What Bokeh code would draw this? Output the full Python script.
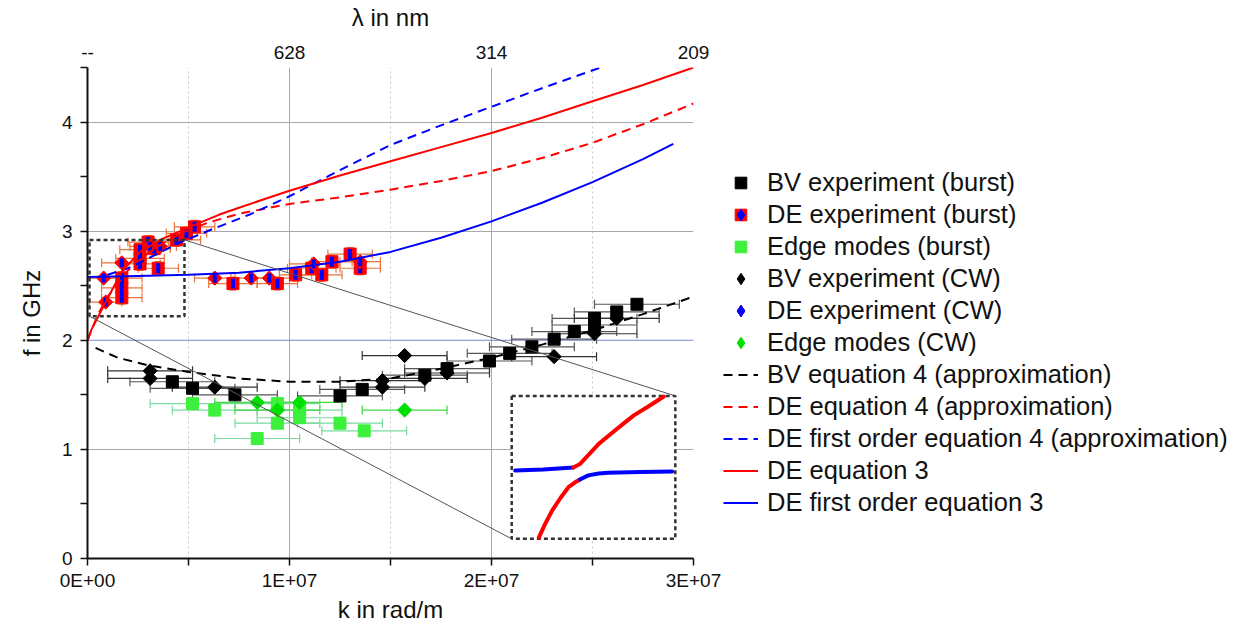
import numpy as np
from bokeh.plotting import figure
from bokeh.models import (ColumnDataSource, Whisker, TeeHead, LinearAxis, FixedTicker,
                          Span, Legend, LegendItem, Range1d)
from bokeh.embed import file_html
from bokeh.resources import INLINE

E7 = 1e7  # k values below are given in units of 1E+07 rad/m

# ---------------- data (k in 1E+07 rad/m, f in GHz) ----------------
bv_burst_k = [0.42, 0.52, 0.73, 1.25, 1.36, 1.67, 1.78, 1.99, 2.09, 2.20, 2.31, 2.41, 2.51, 2.51, 2.62, 2.72]
bv_burst_f = [1.62, 1.56, 1.50, 1.49, 1.55, 1.68, 1.74, 1.81, 1.88, 1.94, 2.01, 2.08, 2.20, 2.14, 2.26, 2.33]
bv_burst_kerr = [0.21] * 16

de_burst_k = [0.17, 0.17, 0.17, 0.26, 0.26, 0.26, 0.30, 0.33, 0.35, 0.44, 0.49, 0.53,
              0.72, 0.94, 1.03, 1.11, 1.16, 1.21, 1.30, 1.35]
de_burst_f = [2.57, 2.48, 2.39, 2.83, 2.75, 2.70, 2.90, 2.84, 2.66, 2.92, 2.98, 3.04,
              2.52, 2.52, 2.60, 2.66, 2.60, 2.72, 2.79, 2.66]
de_burst_kerr = [0.10, 0.10, 0.10, 0.10, 0.12, 0.10, 0.10, 0.08, 0.10, 0.12, 0.10, 0.10,
                 0.12, 0.10, 0.08, 0.12, 0.10, 0.10, 0.11, 0.10]
de_burst_ferr = [0.06] * 20

edge_burst_k = [0.52, 0.63, 0.94, 0.94, 0.84, 1.05, 1.05, 1.25, 1.37]
edge_burst_f = [1.42, 1.36, 1.42, 1.24, 1.10, 1.36, 1.29, 1.24, 1.17]
edge_burst_kerr = [0.21] * 9

bv_cw_k = [0.31, 0.31, 0.63, 1.46, 1.46, 1.57, 1.67, 1.78, 2.31, 2.51, 2.62]
bv_cw_f = [1.72, 1.65, 1.57, 1.57, 1.63, 1.86, 1.65, 1.70, 1.85, 2.06, 2.20]
bv_cw_kerr = [0.21] * 11

de_cw_k = [0.08, 0.09, 0.17, 0.31, 0.36, 0.63, 0.81, 0.90, 1.12, 1.35]
de_cw_f = [2.57, 2.35, 2.71, 2.86, 2.86, 2.57, 2.57, 2.57, 2.70, 2.72]
de_cw_kerr = [0.10, 0.08, 0.10, 0.10, 0.08, 0.10, 0.10, 0.10, 0.12, 0.10]

edge_cw_k = [0.84, 0.94, 1.05, 1.57]
edge_cw_f = [1.43, 1.36, 1.43, 1.36]
edge_cw_kerr = [0.21] * 4

# theory curves
bv_eq4_k = [0.04, 0.15, 0.30, 0.50, 0.75, 1.00, 1.25, 1.50, 1.75, 2.00, 2.25, 2.50, 2.75, 3.00]
bv_eq4_f = [1.93, 1.84, 1.77, 1.71, 1.65, 1.62, 1.62, 1.65, 1.74, 1.84, 1.96, 2.09, 2.24, 2.40]

de_eq4_k = [0.0, 0.05, 0.10, 0.20, 0.30, 0.40, 0.50, 0.60, 0.75, 1.00, 1.25, 1.50, 1.75, 2.00, 2.25, 2.50, 2.75, 3.00]
de_eq4_f = [2.00, 2.23, 2.40, 2.64, 2.80, 2.92, 3.01, 3.08, 3.16, 3.25, 3.31, 3.38, 3.46, 3.55, 3.67, 3.81, 3.98, 4.17]

de1_eq4_k = [0.10, 0.20, 0.30, 0.45, 0.62, 0.80, 1.00, 1.25, 1.50, 1.75, 2.00, 2.25, 2.54]
de1_eq4_f = [2.60, 2.66, 2.75, 2.89, 3.02, 3.15, 3.32, 3.56, 3.79, 3.97, 4.14, 4.31, 4.50]

de_eq3_k = [0.0, 0.02, 0.048, 0.09, 0.17, 0.26, 0.37, 0.47, 0.56, 0.65, 0.75, 0.87, 1.00, 1.25, 1.50,
            1.75, 2.00, 2.25, 2.50, 2.75, 3.00]
de_eq3_f = [2.00, 2.10, 2.20, 2.35, 2.63, 2.81, 2.93, 3.01, 3.08, 3.15, 3.215, 3.29, 3.37, 3.51, 3.64,
            3.77, 3.90, 4.04, 4.19, 4.34, 4.50]

de1_eq3_k = [0.0, 0.25, 0.50, 0.75, 1.00, 1.25, 1.50, 1.75, 2.00, 2.25, 2.50, 2.75, 2.90]
de1_eq3_f = [2.58, 2.59, 2.60, 2.62, 2.66, 2.72, 2.81, 2.94, 3.09, 3.26, 3.45, 3.66, 3.80]

# inset: magnified anticrossing (coordinates inside the zoom window)
ins_up_blue_k = [0.02, 0.10, 0.187]
ins_up_blue_f = [2.555, 2.560, 2.569]
ins_up_red_k = [0.187, 0.205, 0.23, 0.26, 0.296, 0.33, 0.362, 0.40, 0.447]
ins_up_red_f = [2.569, 2.585, 2.63, 2.685, 2.736, 2.783, 2.826, 2.866, 2.917]
ins_lo_red_k = [0.088, 0.105, 0.126, 0.150, 0.173, 0.192, 0.206]
ins_lo_red_f = [2.226, 2.29, 2.358, 2.42, 2.473, 2.497, 2.511]
ins_lo_blue_k = [0.206, 0.23, 0.26, 0.287, 0.38, 0.471]
ins_lo_blue_f = [2.511, 2.531, 2.540, 2.544, 2.548, 2.550]

top_tick_k = [0, 1, 2, 3]
top_tick_labels = ["--", "628", "314", "209"]
bottom_tick_labels = ["0E+00", "1E+07", "2E+07", "3E+07"]

# zoom window and inset placement (k in 1E+07, f in GHz)
ZOOM_K = (0.01, 0.48)
ZOOM_F = (2.22, 2.92)
INSET_K = (2.10, 2.91)
INSET_F = (0.18, 1.49)

FONT = "Liberation Sans"
RED = "#ff0000"
BLUE = "#0000ff"
DE_ERR = "#e8743c"
GREEN_SQ = "#3cf03c"
GREEN_DI = "#00e000"

p = figure(frame_width=606, frame_height=491, x_range=Range1d(0, 3 * E7), y_range=Range1d(0, 4.5),
           output_backend="svg", toolbar_location=None,
           min_border_left=87, min_border_top=10, min_border_bottom=10, min_border_right=10)
p.outline_line_color = None
p.background_fill_color = "white"

# axes
xt = FixedTicker(ticks=[k * E7 for k in top_tick_k], minor_ticks=[0.5 * E7, 1.5 * E7, 2.5 * E7])
p.xaxis.ticker = xt
p.xaxis.major_label_overrides = {int(k * E7): lab for k, lab in zip(top_tick_k, bottom_tick_labels)}
p.yaxis.ticker = FixedTicker(ticks=[0, 1, 2, 3, 4], minor_ticks=[0.5, 1.5, 2.5, 3.5, 4.5])
for ax in (p.xaxis[0], p.yaxis[0]):
    ax.axis_line_width = 2
    ax.axis_line_color = "#111111"
    ax.major_tick_line_color = "#111111"
    ax.minor_tick_line_color = "#111111"
    ax.major_tick_line_width = 1.5
    ax.minor_tick_line_width = 1.5
    ax.major_tick_out = 7
    ax.major_tick_in = 0
    ax.minor_tick_out = 7
    ax.minor_tick_in = 0
    ax.major_label_text_font = FONT
    ax.major_label_text_font_size = "19px"
    ax.major_label_text_color = "#111111"
    ax.axis_label_text_font = FONT
    ax.axis_label_text_font_size = "24px"
    ax.axis_label_text_font_style = "normal"
    ax.axis_label_text_color = "#111111"
p.xaxis.axis_label = "k in rad/m"
p.yaxis.axis_label = "f in GHz"
p.xaxis.major_label_standoff = 4
p.xaxis.axis_label_standoff = 2
p.yaxis.major_label_standoff = 8
p.yaxis.axis_label_standoff = 14

top = LinearAxis(ticker=FixedTicker(ticks=[k * E7 for k in top_tick_k]), axis_label="λ in nm")
top.major_label_overrides = {int(k * E7): lab for k, lab in zip(top_tick_k, top_tick_labels)}
top.axis_line_color = None
top.major_tick_line_color = None
top.minor_tick_line_color = None
top.major_label_text_font = FONT
top.major_label_text_font_size = "19px"
top.major_label_text_color = "#111111"
top.axis_label_text_font = FONT
top.axis_label_text_font_size = "24px"
top.axis_label_text_font_style = "normal"
top.axis_label_text_color = "#111111"
top.major_label_standoff = 3
top.axis_label_standoff = 12
p.add_layout(top, "above")

# grid
p.xgrid.ticker = xt
p.xgrid.grid_line_color = "#a8a8a8"
p.xgrid.minor_grid_line_color = "#c8c8c8"
p.xgrid.minor_grid_line_dash = "2 3"
p.ygrid.ticker = FixedTicker(ticks=[1, 3, 4])
p.ygrid.grid_line_color = "#a8a8a8"
p.add_layout(Span(location=2, dimension="width", line_color="#7c86d0", line_width=1, level="underlay"))


def ksc(vals):
    return np.array(vals) * E7


def xerr_bars(k, f, kerr, color):
    k = np.array(k); kerr = np.array(kerr)
    src = ColumnDataSource(dict(base=f, lower=(k - kerr) * E7, upper=(k + kerr) * E7))
    w = Whisker(source=src, base="base", lower="lower", upper="upper", dimension="width",
                line_color=color, line_width=1.2,
                lower_head=TeeHead(size=9, line_color=color, line_width=1.2),
                upper_head=TeeHead(size=9, line_color=color, line_width=1.2))
    p.add_layout(w)


def ferr_bars(k, f, ferr, color):
    f = np.array(f); ferr = np.array(ferr)
    src = ColumnDataSource(dict(base=ksc(k), lower=f - ferr, upper=f + ferr))
    w = Whisker(source=src, base="base", lower="lower", upper="upper", dimension="height",
                line_color=color, line_width=1.2,
                lower_head=TeeHead(size=7, line_color=color, line_width=1.2),
                upper_head=TeeHead(size=7, line_color=color, line_width=1.2))
    p.add_layout(w)


# error bars
xerr_bars(edge_burst_k, edge_burst_f, edge_burst_kerr, "#78d8a0")
xerr_bars(edge_cw_k, edge_cw_f, edge_cw_kerr, "#40d840")
xerr_bars(bv_burst_k, bv_burst_f, bv_burst_kerr, "#555555")
xerr_bars(bv_cw_k, bv_cw_f, bv_cw_kerr, "#333333")
xerr_bars(de_burst_k, de_burst_f, de_burst_kerr, DE_ERR)
ferr_bars(de_burst_k, de_burst_f, de_burst_ferr, DE_ERR)
xerr_bars(de_cw_k, de_cw_f, de_cw_kerr, DE_ERR)

# markers (legend-shape glyphs are drawn first and hidden below the visible ones)
r_bvb = p.scatter(ksc(bv_burst_k), bv_burst_f, marker="square", size=12, color="black")

r_deb_lg = p.scatter(ksc(de_burst_k), de_burst_f, marker="diamond", size=10, color=BLUE)
r_deb = p.scatter(ksc(de_burst_k), de_burst_f, marker="square", size=12, color=RED)
p.scatter(ksc(de_burst_k), de_burst_f, marker="dash", angle=np.pi / 2, size=10,
          line_color=BLUE, line_width=4)

r_edb = p.scatter(ksc(edge_burst_k), edge_burst_f, marker="square", size=12, color=GREEN_SQ)

r_bvc_lg = p.scatter(ksc(bv_cw_k), bv_cw_f, marker="diamond", size=13, color="black")
p.scatter(ksc(bv_cw_k), bv_cw_f, marker="square", angle=np.pi / 4, size=10, color="black")

r_dec_lg2 = p.scatter(ksc(de_cw_k), de_cw_f, marker="diamond", size=8, color=BLUE)
r_dec_lg = p.scatter(ksc(de_cw_k), de_cw_f, marker="diamond", size=13, color=RED)
p.scatter(ksc(de_cw_k), de_cw_f, marker="square", angle=np.pi / 4, size=10, color=RED)
p.scatter(ksc(de_cw_k), de_cw_f, marker="dash", angle=np.pi / 2, size=9,
          line_color=BLUE, line_width=4)

r_edc_lg = p.scatter(ksc(edge_cw_k), edge_cw_f, marker="diamond", size=13, color=GREEN_DI)
p.scatter(ksc(edge_cw_k), edge_cw_f, marker="square", angle=np.pi / 4, size=10, color=GREEN_DI)

# theory curves
r_bv4 = p.line(ksc(bv_eq4_k), bv_eq4_f, line_color="black", line_width=2, line_dash="9 6")
r_de4 = p.line(ksc(de_eq4_k), de_eq4_f, line_color=RED, line_width=2, line_dash="9 6")
r_de14 = p.line(ksc(de1_eq4_k), de1_eq4_f, line_color=BLUE, line_width=2, line_dash="9 6")
r_de3 = p.line(ksc(de_eq3_k), de_eq3_f, line_color=RED, line_width=2)
r_de13 = p.line(ksc(de1_eq3_k), de1_eq3_f, line_color=BLUE, line_width=2)

# zoom window, connectors and inset
p.segment(x0=[ZOOM_K[1] * E7, ZOOM_K[0] * E7], y0=[ZOOM_F[1], ZOOM_F[0]],
          x1=[INSET_K[1] * E7, INSET_K[0] * E7], y1=[INSET_F[1], INSET_F[0]],
          line_color="#555555", line_width=1)
p.quad(left=[ZOOM_K[0] * E7], right=[ZOOM_K[1] * E7], bottom=[ZOOM_F[0]], top=[ZOOM_F[1]],
       fill_color=None, line_color="#333333", line_width=2.5, line_dash="4 3")
p.quad(left=[INSET_K[0] * E7], right=[INSET_K[1] * E7], bottom=[INSET_F[0]], top=[INSET_F[1]],
       fill_color="white", line_color="#333333", line_width=2.5, line_dash="4 3")


def to_inset(k, f):
    k = np.array(k); f = np.array(f)
    fx = (k - ZOOM_K[0]) / (ZOOM_K[1] - ZOOM_K[0])
    fy = (f - ZOOM_F[0]) / (ZOOM_F[1] - ZOOM_F[0])
    return (INSET_K[0] + fx * (INSET_K[1] - INSET_K[0])) * E7, INSET_F[0] + fy * (INSET_F[1] - INSET_F[0])


for kk, ff, col in [(ins_up_blue_k, ins_up_blue_f, BLUE), (ins_up_red_k, ins_up_red_f, RED),
                    (ins_lo_red_k, ins_lo_red_f, RED), (ins_lo_blue_k, ins_lo_blue_f, BLUE)]:
    xs, ys = to_inset(kk, ff)
    p.line(xs, ys, line_color=col, line_width=4, line_cap="round")

# legend
items = [
    LegendItem(label="BV experiment (burst)", renderers=[r_bvb]),
    LegendItem(label="DE experiment (burst)", renderers=[r_deb, r_deb_lg]),
    LegendItem(label="Edge modes (burst)", renderers=[r_edb]),
    LegendItem(label="BV experiment (CW)", renderers=[r_bvc_lg]),
    LegendItem(label="DE experiment (CW)", renderers=[r_dec_lg, r_dec_lg2]),
    LegendItem(label="Edge modes (CW)", renderers=[r_edc_lg]),
    LegendItem(label="BV equation 4 (approximation)", renderers=[r_bv4]),
    LegendItem(label="DE equation 4 (approximation)", renderers=[r_de4]),
    LegendItem(label="DE first order equation 4 (approximation)", renderers=[r_de14]),
    LegendItem(label="DE equation 3", renderers=[r_de3]),
    LegendItem(label="DE first order equation 3", renderers=[r_de13]),
]
legend = Legend(items=items, location="top_left", padding=0, spacing=3,
                margin=0,
                glyph_width=35, glyph_height=29, label_height=29, label_standoff=9,
                label_text_font=FONT, label_text_font_size="25.5px", label_text_color="#111111",
                border_line_alpha=0, background_fill_alpha=0)
p.add_layout(legend, "right")
# shift legend inside its side panel (left gap and bottom gap in screen pixels)
legend.location = (30, 41)

open("out.html", "w").write(file_html(p, INLINE))
